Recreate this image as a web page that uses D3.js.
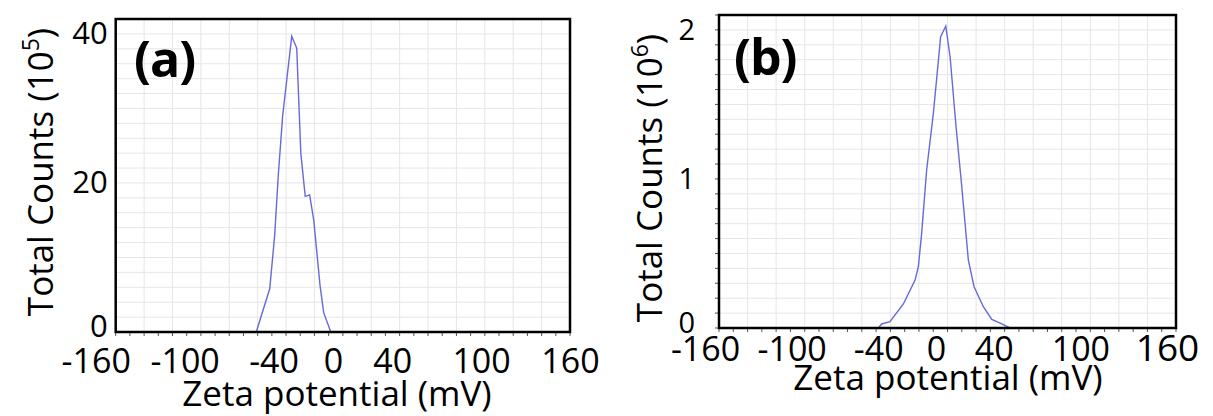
<!DOCTYPE html>
<html>
<head>
<meta charset="utf-8">
<script src="https://cdn.jsdelivr.net/npm/d3@7"></script>
<style>
	body { margin: 0; background: #fff; }
	svg { display: block; font-family: 'Open Sans', sans-serif; }
</style>
</head>
<body>
<svg id="chart" width="1213" height="416"></svg>
<script>
// values
var zetaA = [-160, -61, -51.5, -48, -45.5, -42.4, -36, -32.5, -29.6, -26.5, -23.4, -20.5, -16.1, -13.5, -8.5, 160];
var countsA = [0, 0, 5.8, 13, 21, 29, 39.7, 38.1, 24, 18.2, 18.4, 15, 6.3, 2.6, 0, 0];

var zetaB = [-160, -48.4, -46.1, -40.3, -30.9, -22.7, -20.4, -18.1, -14.6, -9.9, -4.8, -1.2, 1.8, 6.0, 10.0, 14.6, 18.6, 25.1, 31.0, 38.0, 43.8, 160];
var countsB = [0, 0, 0.027, 0.042, 0.161, 0.322, 0.411, 0.635, 1.06, 1.44, 1.954, 2.026, 1.82, 1.35, 0.948, 0.456, 0.277, 0.143, 0.058, 0.027, 0, 0];

var xTicks = [-160, -100, -40, 0, 40, 100, 160];
var yTicksA = [0, 20, 40];
var yTicksB = [0, 1, 2];

(function() {

	var svg = d3.select('#chart');
	var LINE_COLOR = '#6868dc';
	var GRID_COLOR = '#e5e5eb';

	var panels = [
		{
			xs: zetaA, ys: countsA, yTicks: yTicksA, yMax: 42, yStep: 2, exp: '5', tag: '(a)',
			left: 115.7, right: 570, top: 19, bottom: 332,
			tagX: 134, tagY: 77,
			yPad: 8, yFont: 31, yTitleX: 53, yTitleY: 172,
			labelShift: [-20, 0], xTickY: 373, titleX: 337, titleY: 406,
			leftTicks: false, bigLast: false
		},
		{
			xs: zetaB, ys: countsB, yTicks: yTicksB, yMax: 2.1, yStep: 0.1, exp: '6', tag: '(b)',
			left: 719, right: 1176, top: 15, bottom: 328,
			tagX: 734, tagY: 75,
			yPad: 24, yFont: 29, yTitleX: 662, yTitleY: 178,
			labelShift: [-14, -9], xTickY: 361, titleX: 948, titleY: 390,
			leftTicks: true, bigLast: true
		}
	];

	panels.forEach(drawPanel);

	function drawPanel(p) {
		var x = d3.scaleLinear().domain([-160, 160]).range([p.left, p.right]);
		var y = d3.scaleLinear().domain([0, p.yMax]).range([p.bottom, p.top]);
		var g = svg.append('g');

		// grid
		g.append('g').selectAll('line').data(d3.range(-140, 160, 20)).enter().append('line')
			.attr('x1', function(d) { return x(d); }).attr('x2', function(d) { return x(d); })
			.attr('y1', p.top).attr('y2', p.bottom)
			.attr('stroke', GRID_COLOR).attr('stroke-width', 1);
		var nY = Math.round(p.yMax / p.yStep);
		g.append('g').selectAll('line').data(d3.range(1, nY)).enter().append('line')
			.attr('x1', p.left).attr('x2', p.right)
			.attr('y1', function(d) { return y(d * p.yStep); }).attr('y2', function(d) { return y(d * p.yStep); })
			.attr('stroke', GRID_COLOR).attr('stroke-width', 1);

		// small ticks along the bottom (and left for b)
		g.append('g').selectAll('line').data(d3.range(-160, 161, 10)).enter().append('line')
			.attr('x1', function(d) { return x(d); }).attr('x2', function(d) { return x(d); })
			.attr('y1', p.bottom).attr('y2', p.bottom + 4)
			.attr('stroke', '#555').attr('stroke-width', 1);
		if (p.leftTicks) {
			g.append('g').selectAll('line').data(d3.range(0, nY + 1)).enter().append('line')
				.attr('x1', p.left - 4).attr('x2', p.left)
				.attr('y1', function(d) { return y(d * p.yStep); }).attr('y2', function(d) { return y(d * p.yStep); })
				.attr('stroke', '#555').attr('stroke-width', 1);
		}

		// data
		var line = d3.line()
			.x(function(d, i) { return x(p.xs[i]); })
			.y(function(d) { return y(d); });
		g.append('path').datum(p.ys)
			.attr('d', line)
			.attr('fill', 'none')
			.attr('stroke', LINE_COLOR)
			.attr('stroke-width', 1.4);

		// frame
		g.append('rect')
			.attr('x', p.left).attr('y', p.top)
			.attr('width', p.right - p.left).attr('height', p.bottom - p.top)
			.attr('fill', 'none').attr('stroke', '#000').attr('stroke-width', 2.5);

		// y axis labels
		var yAxis = g.append('g').attr('transform', 'translate(' + p.left + ',0)')
			.call(d3.axisLeft(y).tickValues(p.yTicks).tickSize(0).tickPadding(p.yPad).tickFormat(String));
		yAxis.select('.domain').remove();
		yAxis.selectAll('text').attr('font-size', p.yFont).attr('font-family', 'Open Sans').attr('fill', '#000')
			.attr('dy', function(d) { return d == 0 ? '0.15em' : '0.32em'; });

		// x axis labels (the picture places them a bit off the grid)
		var xl = d3.scaleLinear().domain([-160, 160]).range([p.left + p.labelShift[0], p.right + p.labelShift[1]]);
		var xAxis = g.append('g').attr('transform', 'translate(0,' + p.xTickY + ')')
			.call(d3.axisBottom(xl).tickValues(xTicks).tickSize(0).tickFormat(String));
		xAxis.select('.domain').remove();
		xAxis.selectAll('text')
			.attr('y', 0).attr('dy', 0)
			.attr('font-size', function(d, i) { return p.bigLast && i == xTicks.length - 1 ? 37 : 34; })
			.attr('font-family', 'Open Sans').attr('fill', '#000');

		// axis titles
		g.append('text')
			.attr('x', p.titleX).attr('y', p.titleY)
			.attr('text-anchor', 'middle')
			.attr('font-size', 35)
			.text('Zeta potential (mV)');

		var yt = g.append('text')
			.attr('transform', 'translate(' + p.yTitleX + ',' + p.yTitleY + ') rotate(-90)')
			.attr('text-anchor', 'middle')
			.attr('font-size', 35);
		yt.append('tspan').text('Total Counts (10');
		yt.append('tspan').attr('font-size', 23).attr('dy', -14).text(p.exp);
		yt.append('tspan').attr('dy', 14).text(')');

		// panel tag
		g.append('text')
			.attr('x', p.tagX).attr('y', p.tagY)
			.attr('font-size', 50)
			.attr('font-weight', 'bold')
			.attr('letter-spacing', -1)
			.text(p.tag);
	}
}());
</script>
</body>
</html>
